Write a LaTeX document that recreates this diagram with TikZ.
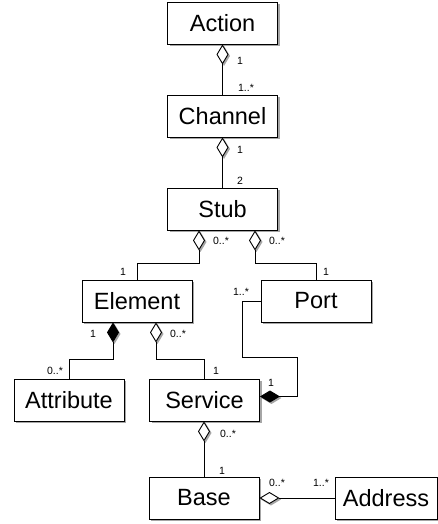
\documentclass[tikz,border=0pt]{standalone}
\usepackage{fontspec}
\setmainfont{Liberation Sans}
\usetikzlibrary{arrows.meta,shadows}
\newcommand\vdiamsh[1]{\fill[gray!70] ([shift={(1.5,1.5)}]#1) -- ++(6,10) -- ++(-6,10) -- ++(-6,-10) -- cycle;}
\newcommand\hdiamsh[1]{\fill[gray!70] ([shift={(1.5,1.5)}]#1) -- ++(10,6) -- ++(10,-6) -- ++(-10,-6) -- cycle;}
\begin{document}
\begin{tikzpicture}[x=1pt,y=-1pt,
  cls/.style={draw,line width=0.9pt,fill=white,minimum width=110pt,minimum height=42pt,inner sep=0pt,
    font=\fontsize{23.5}{24}\selectfont,
    drop shadow={shadow xshift=2pt,shadow yshift=-2pt,fill=gray!70,opacity=1}},
  lbl/.style={inner sep=0pt,font=\fontsize{10.5}{10.5}\selectfont},
  conn/.style={line width=0.9pt},
  agg/.style={{Diamond[fill=white,length=20pt,width=12pt]}-},
  comp/.style={{Diamond[length=20pt,width=12pt]}-}
]
\useasboundingbox (0,0) rectangle (438,524);

\node[cls] (action) at (222.5,23) {Action};
\node[cls] (channel) at (222.5,116) {Channel};
\node[cls] (stub) at (222.5,209) {Stub};
\node[cls] (element) at (137,301) {Element};
\node[cls] (port) at (316,301) {Port};
\node[cls] (attribute) at (69,400) {Attribute};
\node[cls] (service) at (204.5,400) {Service};
\node[cls] (base) at (204,498) {Base};
\node[cls,minimum width=102pt] (address) at (386,498) {Address};

\coordinate (stubL) at ([xshift=-23.5pt]stub.south);
\coordinate (stubR) at ([xshift=32.5pt]stub.south);
\coordinate (elemL) at ([xshift=-24pt]element.south);
\coordinate (elemR) at ([xshift=19pt]element.south);
\coordinate (servB) at ([xshift=-0.5pt]service.south);
\coordinate (servE) at ([yshift=3.5pt]service.east);

% diamond shadows
\vdiamsh{action.south}
\vdiamsh{channel.south}
\vdiamsh{stubL}
\vdiamsh{stubR}
\vdiamsh{elemL}
\vdiamsh{elemR}
\vdiamsh{servB}
\hdiamsh{servE}
\hdiamsh{base.east}

\draw[conn,agg] (action.south) -- (channel.north);
\draw[conn,agg] (channel.south) -- (stub.north);
\draw[conn,agg] (stubL) -- ++(0,33) -| (element.north);
\draw[conn,agg] (stubR) -- ++(0,33) -| (port.north);
\draw[conn,comp] (elemL) -- ++(0,37) -| (attribute.north);
\draw[conn,agg] (elemR) -- ++(0,37) -| (service.north);
\draw[conn,comp] (servE) -- (297,396.5) -- (297,357) -- (242,357) |- (port.west);
\draw[conn,agg] (servB) -- (base.north);
\draw[conn,agg] (base.east) -- (address.west);

\node[lbl] (l1) at (240,61) {1};
\node[lbl] (l2) at (246,88) {1..*};
\node[lbl] (l3) at (240,150) {1};
\node[lbl] (l4) at (240,181) {2};
\node[lbl] (l5) at (221,241) {0..*};
\node[lbl] (l6) at (277,241) {0..*};
\node[lbl] (l7) at (123,272) {1};
\node[lbl] (l8) at (326,272) {1};
\node[lbl] (l9) at (241,292) {1..*};
\node[lbl] (l10) at (93,334) {1};
\node[lbl] (l11) at (178,334) {0..*};
\node[lbl] (l12) at (55,371) {0..*};
\node[lbl] (l13) at (216,371) {1};
\node[lbl] (l14) at (271,383) {1};
\node[lbl] (l15) at (228,434) {0..*};
\node[lbl] (l16) at (222,471) {1};
\node[lbl] (l17) at (277,483) {0..*};
\node[lbl] (l18) at (321,483) {1..*};
\end{tikzpicture}
\end{document}
